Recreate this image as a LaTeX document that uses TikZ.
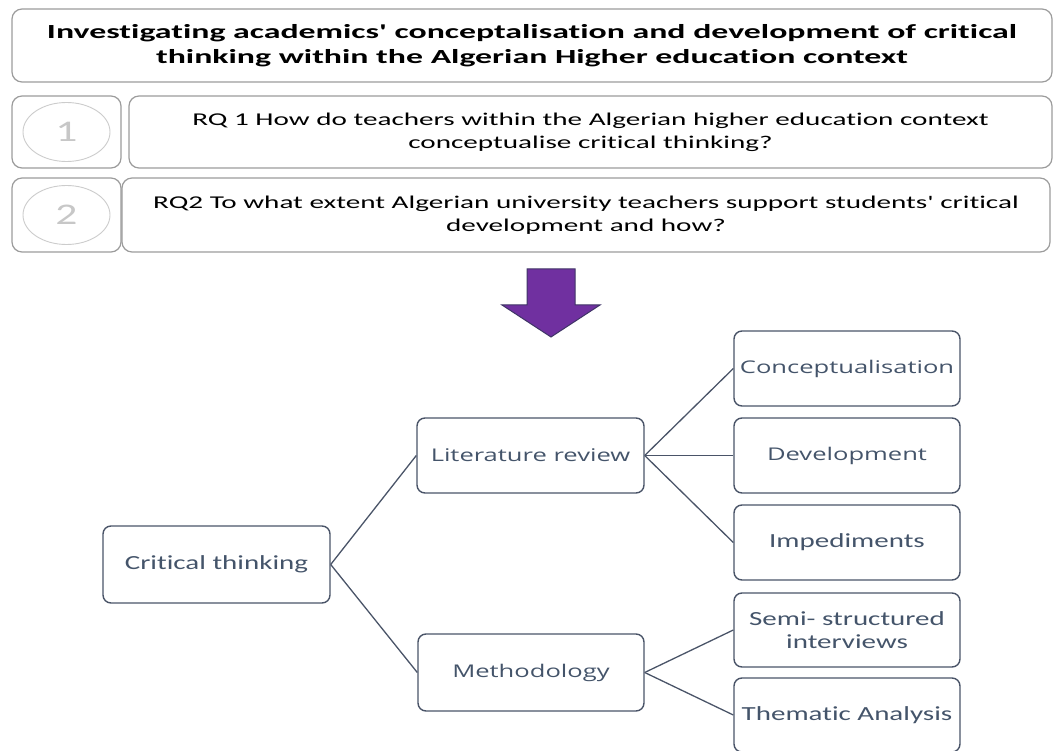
\documentclass[tikz,border=0pt]{standalone}
\usepackage{fontspec}
\usetikzlibrary{shapes.geometric}
\setmainfont{Carlito}
\newfontfamily\carlT{Carlito}[FakeStretch=1.69, Ligatures=NoCommon]
\newfontfamily\carlR{Carlito}[FakeStretch=1.62, Ligatures=NoCommon]
\newfontfamily\carl{Carlito}[FakeStretch=1.45, Ligatures=NoCommon]
\newfontfamily\opsans{Open Sans}[FakeStretch=1.46]
\definecolor{topline}{HTML}{9C9C9C}
\definecolor{slate}{HTML}{4A5468}
\definecolor{slatetext}{HTML}{44546A}
\definecolor{purp}{HTML}{7030A0}
\definecolor{purpline}{HTML}{3F3566}
\begin{document}
\begin{tikzpicture}[x=1pt,y=-1pt,
  topbox/.style={draw=topline, line width=1.2pt, rounded corners=10pt, inner sep=0pt, align=center, fill=white},
  numbox/.style={topbox},
  numcirc/.style={draw=black!20, line width=0.9pt, ellipse, minimum width=87pt, minimum height=59pt, inner sep=0pt,
      font=\carl\fontsize{30}{30}\selectfont, text=black!22},
  lowbox/.style={draw=slate, line width=1.4pt, rounded corners=8pt, inner sep=0pt, align=center, text=slatetext, minimum width=226pt, minimum height=75pt},
  link/.style={draw=slate, line width=1.3pt},
  titlefont/.style={font=\carlT\bfseries\fontsize{20}{24.5}\selectfont},
  rqfont/.style={font=\carlR\fontsize{18}{23}\selectfont},
  wfont/.style={font=\opsans\fontsize{17.5}{23}\selectfont},
  cfont/.style={font=\carl\fontsize{20}{23}\selectfont}
]
\useasboundingbox (0,0) rectangle (1055,751);
% title
\node[topbox, titlefont, minimum width=1040pt, minimum height=73pt] (title) at (532,45.5)
  {Investigating academics' conceptalisation and development of critical\\thinking within the Algerian Higher education context};
% RQ rows
\node[numbox, minimum width=109pt, minimum height=72pt] (n1) at (66.5,132) {};
\node[numcirc] (c1) at (n1.center) {1};
\node[topbox, rqfont, minimum width=923pt, minimum height=72pt] (rq1) at (590.5,132)
  {RQ 1 How do teachers within the Algerian higher education context\\conceptualise critical thinking?};
\node[numbox, minimum width=109pt, minimum height=74pt] (n2) at (66.5,215) {};
\node[numcirc] (c2) at (n2.center) {2};
\node[topbox, rqfont, minimum width=928pt, minimum height=74pt] (rq2) at (586,215)
  {RQ2 To what extent Algerian university teachers support students' critical\\development and how?};
% arrow
\filldraw[fill=purp, draw=purpline, line width=1pt, line join=miter]
  (527,269) -- (575,269) -- (575,305) -- (600,305) -- (551,337) -- (502,305) -- (527,305) -- cycle;
% tree
\node[lowbox, cfont, minimum width=227pt, minimum height=77pt] (ct) at (216.5,564.5) {Critical thinking};
\node[lowbox, wfont, minimum width=227pt] (lit) at (530.5,455.5) {Literature review};
\node[lowbox, wfont, minimum height=77pt] (meth) at (531,672.5) {Methodology};
\node[lowbox, wfont] (con) at (847,368.5) {Conceptualisation};
\node[lowbox, wfont] (dev) at (847,455.5) {Development};
\node[lowbox, cfont] (imp) at (847,542.5) {Impediments};
\node[lowbox, cfont, minimum height=74pt] (semi) at (847,630) {Semi- structured\\interviews};
\node[lowbox, cfont, minimum height=74pt] (them) at (847,715) {Thematic Analysis};
\draw[link] (ct.east) -- (lit.west);
\draw[link] (ct.east) -- (meth.west);
\draw[link] (lit.east) -- (con.west);
\draw[link] (lit.east) -- (dev.west);
\draw[link] (lit.east) -- (imp.west);
\draw[link] (meth.east) -- (semi.west);
\draw[link] (meth.east) -- (them.west);
\end{tikzpicture}
\end{document}
